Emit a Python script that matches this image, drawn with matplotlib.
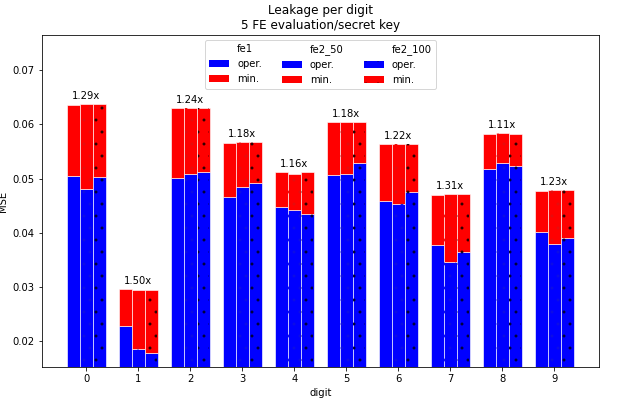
import matplotlib
matplotlib.use("Agg")
import matplotlib.pyplot as plt
from matplotlib.patches import Patch
import numpy as np

digits = list(range(10))
methods = ["fe1", "fe2_50", "fe2_100"]

# oper. part of each bar
oper = {
    "fe1":     [0.0505, 0.0228, 0.0501, 0.0465, 0.0447, 0.0506, 0.0459, 0.0377, 0.0517, 0.0401],
    "fe2_50":  [0.0481, 0.0185, 0.0509, 0.0485, 0.0442, 0.0509, 0.0453, 0.0345, 0.0529, 0.0379],
    "fe2_100": [0.0502, 0.0178, 0.0513, 0.0492, 0.0435, 0.0528, 0.0476, 0.0365, 0.0523, 0.0391],
}
# total height (oper. + min.)
total = {
    "fe1":     [0.0636, 0.0295, 0.0630, 0.0565, 0.0512, 0.0604, 0.0563, 0.0470, 0.0582, 0.0477],
    "fe2_50":  [0.0637, 0.0294, 0.0631, 0.0568, 0.0509, 0.0604, 0.0564, 0.0472, 0.0584, 0.0478],
    "fe2_100": [0.0637, 0.0294, 0.0631, 0.0568, 0.0512, 0.0604, 0.0564, 0.0472, 0.0582, 0.0479],
}
ratio_labels = ["1.29x", "1.50x", "1.24x", "1.18x", "1.16x", "1.18x", "1.22x", "1.31x", "1.11x", "1.23x"]

hatches = {"fe1": None, "fe2_50": ".", "fe2_100": "."}
hatch_red = {"fe1": "none", "fe2_50": (0.9, 0.05, 0.05), "fe2_100": (0.15, 0, 0)}
hatch_blue = {"fe1": "none", "fe2_50": (0.05, 0.05, 0.9), "fe2_100": (0, 0, 0.2)}

plt.rcParams["hatch.linewidth"] = 0.4

fig, ax = plt.subplots(figsize=(640 / 72, 404 / 72), dpi=72)
fig.subplots_adjust(left=0.065, right=0.936, bottom=0.092, top=0.913)

x = np.arange(len(digits))
w = 0.25
for i, m in enumerate(methods):
    pos = x + (i - 1) * w
    op = np.array(oper[m])
    mn = np.array(total[m]) - op
    ax.bar(pos, op, w, color="blue", edgecolor="white", linewidth=0.6)
    ax.bar(pos, mn, w, bottom=op, color="red", edgecolor="white", linewidth=0.6)
    if hatches[m]:
        ax.bar(pos, op, w * 0.9, facecolor="none", edgecolor=hatch_blue[m],
               linewidth=0, hatch=hatches[m])
        ax.bar(pos, mn, w * 0.9, bottom=op, facecolor="none", edgecolor=hatch_red[m],
               linewidth=0, hatch=hatches[m])

for i in range(len(digits)):
    top = max(total[m][i] for m in methods)
    ax.annotate(ratio_labels[i], (x[i], top), xytext=(0, 3), textcoords="offset points",
                ha="center", va="bottom", fontsize=10)

ax.set_ylim(0.0152, 0.0765)
ax.set_xticks(x)
ax.set_xticklabels([str(d) for d in digits])
ax.set_xlabel("digit")
ax.set_ylabel("MSE")
ax.set_title("Leakage per digit\n5 FE evaluation/secret key")

handles = []
labels = []
for m in methods:
    handles.append(Patch(facecolor="none", edgecolor="none", linewidth=0))
    labels.append(m)
    handles.append(Patch(facecolor="blue", edgecolor=hatch_blue[m], linewidth=0,
                         hatch=hatches[m]))
    labels.append("oper.")
    handles.append(Patch(facecolor="red", edgecolor=hatch_red[m], linewidth=0,
                         hatch=hatches[m]))
    labels.append("min.")
ax.legend(handles, labels, ncol=3, loc="upper center")

fig.savefig("out.png", dpi=72)
